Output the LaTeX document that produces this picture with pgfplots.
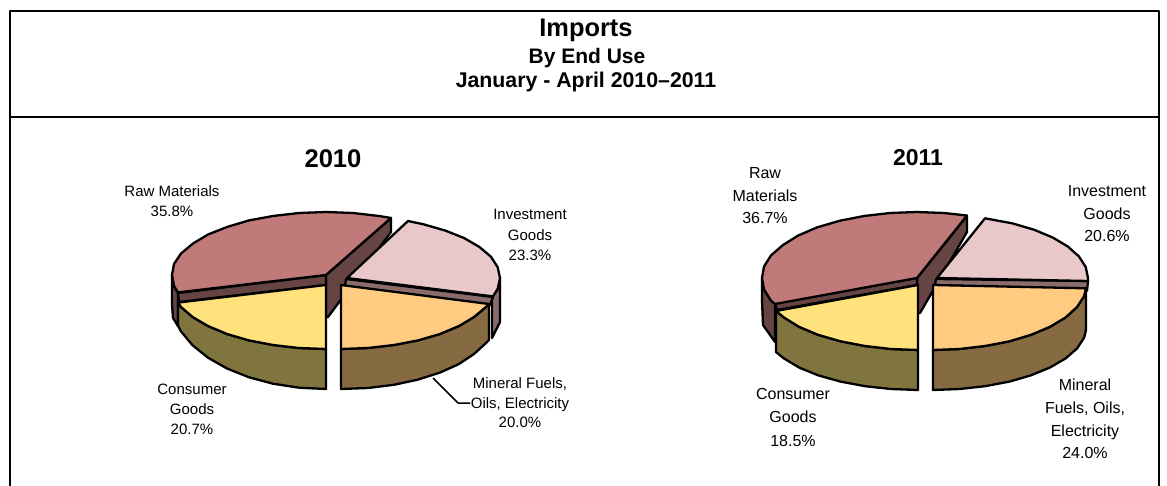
\documentclass[border=0pt]{standalone}
\usepackage{pgfplots}
\pgfplotsset{compat=1.18}
\usepackage{fontspec}
\setmainfont{Liberation Sans}
\definecolor{rawtop}{HTML}{C07A7A}
\definecolor{rawside}{HTML}{664444}
\definecolor{invtop}{HTML}{E8C8C8}
\definecolor{invside}{HTML}{8A6C6C}
\definecolor{mintop}{HTML}{FFCB80}
\definecolor{minside}{HTML}{866A42}
\definecolor{contop}{HTML}{FFE27C}
\definecolor{conside}{HTML}{80743F}
\newcommand{\lab}[4]{\node[align=center,font=\fontsize{#3}{#4}\selectfont] at #1 {#2};}
\begin{document}
\begin{tikzpicture}
\begin{axis}[
  width=1167pt,height=486pt,scale only axis,hide axis,
  xmin=0,xmax=1167,ymin=0,ymax=486,y dir=reverse,
  every axis plot/.append style={draw=black,line width=2.3pt,line join=round},
]
% frame
\addplot[draw=black,line width=2.6pt] coordinates {(10,486)(10,11)(1159,11)(1159,486)};
\addplot[draw=black,line width=2.2pt] coordinates {(10,117)(1159,117)};
%
% ---------- 2010 ----------
\addplot[fill=rawside] coordinates {(172,275)(174,286)(178,293)(178,326)(173,318)(172,305)} -- cycle;
\addplot[fill=rawside] coordinates {(326,275)(391,218)(391,232)(328,317)(326,317)} -- cycle;
\addplot[fill=rawside] coordinates {(178,293)(326,275)(326,285)(179,302)} -- cycle;
\addplot[fill=rawtop] coordinates {(326,275)(391,218)(379,216)(353,213)(326,212)(299,213)(273,216)(249,220.4)(227,227)(208,234.5)(193,243.5)(181,253.5)(174,264)(172,275)(174,286)(178,292.4)} -- cycle;
\addplot[fill=invside] coordinates {(500,278)(500,322)(492,338)(492,297)(497.7,289)} -- cycle;
\addplot[fill=invside] coordinates {(346,279)(493,297)(490,305)(345,286)} -- cycle;
\addplot[fill=invtop] coordinates {(347,278)(408,221)(423.5,224.3)(445,230.5)(464,238)(479.5,247)(491,256.8)(497.7,267.2)(500,278)(497.7,288.8)(493,296.4)} -- cycle;
\addplot[fill=minside] coordinates {(341,349)(368,348)(394,345)(418,340.4)(440,334)(459,326)(474,317)(486,307)(489,304)(489,340)(486,343)(474,354)(459,364)(440,372.6)(418,379.6)(394,384.8)(368,388)(341,389)} -- cycle;
\addplot[fill=mintop] coordinates {(341,285)(489,304)(486,307)(474,317)(459,326)(440,334)(418,340.4)(394,345)(368,348)(341,349)} -- cycle;
\addplot[fill=conside] coordinates {(178,302.6)(181,307)(192.6,317)(208,326)(227,334)(249,340.4)(273,345)(299,348)(326,349)(326,389)(299,387.7)(273,383.7)(249,377.3)(227,368.5)(208,357.7)(192.6,345.3)(181,331.4)(178,325.6)} -- cycle;
\addplot[fill=contop] coordinates {(326,285)(178,302.6)(181,307)(192.6,317)(208,326)(227,334)(249,340.4)(273,345)(299,348)(326,349)} -- cycle;
\addplot[draw=black,line width=1.5pt] coordinates {(433,378)(458,403)(470,403)};
%
% ---------- 2011 ----------
\addplot[fill=rawside] coordinates {(762,278)(764,289.5)(771,300.6)(775,304)(775,342)(763,325)(762,300)} -- cycle;
\addplot[fill=rawside] coordinates {(917,278)(967,216)(967,232)(920,313)(917,313)} -- cycle;
\addplot[fill=rawside] coordinates {(775,303)(917,278)(917,285)(777,310)} -- cycle;
\addplot[fill=rawtop] coordinates {(917,278)(967,215.5)(944,213)(917,212)(890,213)(864,216)(839.5,220.8)(817,227.4)(798,235.6)(783,245)(771,255.4)(764,266.5)(762,278)(764,289.5)(771,300.6)(775,304)} -- cycle;
\addplot[fill=invside] coordinates {(936,279)(1088,281)(1087,291)(935,285)} -- cycle;
\addplot[fill=invtop] coordinates {(937,278)(985,218.3)(1012.5,223.4)(1034,229.7)(1052.7,237.5)(1067.8,246.5)(1079,256.5)(1085.7,267)(1088,278)(1088,281)} -- cycle;
\addplot[fill=minside] coordinates {(933,350)(959.6,349)(985,346)(1009.5,341.3)(1031,334.8)(1050,326.8)(1065.5,317.5)(1077,307)(1084,296.3)(1086,288.3)(1086,330)(1084,338)(1077,348.5)(1065.5,358.5)(1050,367.5)(1031,375.3)(1009.5,381.6)(985,386.2)(959.6,389)(933,390)} -- cycle;
\addplot[fill=mintop] coordinates {(933,285)(1086,288.3)(1084,296.3)(1077,307)(1065.5,317.5)(1050,326.8)(1031,334.8)(1009.5,341.3)(985,346)(959.6,349)(933,350)} -- cycle;
\addplot[fill=conside] coordinates {(776,311)(784,317.5)(799,326.8)(818,334.8)(840.5,341.3)(865,346)(891,349)(918,350)(918,390)(891,389)(865,386.2)(840.5,381.6)(818,375.3)(799,367.5)(784,358.5)(776,352)} -- cycle;
\addplot[fill=contop] coordinates {(918,285)(776,311)(784,317.5)(799,326.8)(818,334.8)(840.5,341.3)(865,346)(891,349)(918,350)} -- cycle;
%
% titles
\node[font=\fontsize{25.4}{30}\selectfont\bfseries] at (axis cs:586,30) {Imports};
\node[font=\fontsize{21}{25}\selectfont\bfseries] at (axis cs:587,58) {By End Use};
\node[font=\fontsize{21.3}{25}\selectfont\bfseries] at (axis cs:586,82) {January - April 2010–2011};
\node[font=\fontsize{25.6}{30}\selectfont\bfseries] at (axis cs:333,159) {2010};
\node[font=\fontsize{23}{28}\selectfont\bfseries] at (axis cs:918,158) {2011};
% labels 2010
\lab{(axis cs:172,201)}{Raw Materials\\35.8\%}{15}{20.5}
\lab{(axis cs:530,235)}{Investment\\Goods\\23.3\%}{15}{20.5}
\lab{(axis cs:520,403)}{Mineral Fuels,\\Oils, Electricity\\20.0\%}{15}{19.5}
\lab{(axis cs:192,409)}{Consumer\\Goods\\20.7\%}{15}{20}
% labels 2011
\lab{(axis cs:765,196)}{Raw\\Materials\\36.7\%}{16}{22.5}
\lab{(axis cs:1107,214)}{Investment\\Goods\\20.6\%}{16}{22.5}
\lab{(axis cs:793,417)}{Consumer\\Goods\\18.5\%}{16}{23.5}
\lab{(axis cs:1085,419)}{Mineral\\Fuels, Oils,\\Electricity\\24.0\%}{16}{22.7}
\end{axis}
\path (current axis.south west) (current axis.north east);
\end{tikzpicture}
\end{document}
